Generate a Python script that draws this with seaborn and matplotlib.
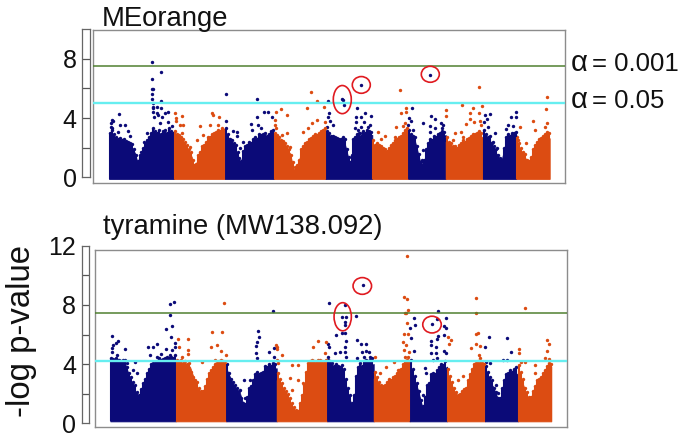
import pandas as pd
import seaborn as sns
import matplotlib
matplotlib.use("Agg")
import matplotlib.pyplot as plt
from matplotlib.patches import Ellipse

navy = "#0b0a78"
orange = "#dc4c12"
W, H = 686, 440

# solid part of each chromosome: (position, top of the dense points)
top_body = [
    [(109,2.86),(116.7,2.3),(126.7,2.3),(131.7,2.07),(135,1.62),(137.7,.95),(138.7,.16),(141.7,1.17),(145,1.96),(150,2.41),(156.7,2.75),(163.3,2.75),(174,2.86)],
    [(174,2.86),(181.7,2.52),(186.7,1.96),(191.7,1.39),(194.3,.5),(197.3,1.17),(203.3,1.96),(210,2.52),(216.7,2.86),(225,2.97)],
    [(225,3.09),(231.7,2.3),(235,1.96),(240,.95),(245,1.85),(250,2.07),(256.7,2.3),(263.3,2.64),(274,2.86)],
    [(274,2.75),(283.3,2.2),(290,1.62),(295,.16),(298.3,.95),(301.7,1.85),(308.3,2.3),(320,2.75),(325.7,2.97)],
    [(325.7,2.86),(333.3,2.52),(340,2.3),(344.7,2.3),(348,1.39),(351.3,.72),(353,2.3),(359.7,2.64),(372.3,2.86)],
    [(372.3,2.07),(379.7,1.96),(386.3,1.62),(393,1.96),(401.3,2.52),(408.3,2.86)],
    [(408.3,2.97),(414.7,2.52),(419.7,1.17),(423,.5),(428,2.07),(436.3,2.52),(445.7,2.86)],
    [(445.7,2.41),(454.7,1.85),(459.7,1.85),(469.7,2.3),(476.3,2.64),(483,2.75)],
    [(483,2.97),(489.7,2.52),(496.3,1.62),(501.3,1.06),(506.3,2.52),(516.3,2.86)],
    [(516.3,2.3),(524.7,1.39),(529,.83),(534.7,1.85),(539.7,2.41),(549.7,2.64)],
]
bottom_body = [
    [(110.3,4.17),(125,4.05),(128.3,3.38),(133.3,2.48),(138.3,1.69),(143.3,2.48),(148.3,3.38),(156.7,3.83),(166.7,4.17),(175.7,4.17)],
    [(175.7,4.05),(190,3.83),(196.7,2.48),(203.3,1.8),(210,3.14),(216.7,3.83),(226.3,4.05)],
    [(226.3,3.72),(233.3,2.59),(240,2.03),(245,.9),(250,2.14),(256.7,2.93),(266.7,3.6),(276.7,3.72)],
    [(276.7,2.93),(286.7,1.8),(296.7,.56),(303.3,1.8),(308.3,3.83),(320,4.05),(327.3,4.05)],
    [(327.3,3.83),(335,3.6),(343,3.38),(348,2.03),(353,.9),(356.3,2.93),(363,3.6),(373.7,4.01)],
    [(373.7,3.04),(384.7,2.25),(393,2.7),(401.3,3.38),(409.7,4.05)],
    [(409.7,3.83),(418,2.25),(423,.9),(428,2.14),(436.3,2.93),(443,3.6),(447,3.83)],
    [(447,3.38),(458,1.58),(466.3,2.03),(474.7,3.72),(485,3.83)],
    [(485,3.38),(493,2.48),(499.7,1.35),(506.3,2.93),(518,3.38)],
    [(518,3.6),(529.7,1.35),(539.7,2.7),(551.3,3.83)],
]

# separate markers above the solid part
top_navy = [
    (152,7.82),(160.7,7.14),(152,6.62),(152,5.99),(153.3,5.95),(152,5.63),(152,5.29),(160.7,5.16),(152.7,5.0),(152.7,4.77),
    (153.3,4.66),(157.3,4.73),(161.3,4.68),(152.7,4.44),(168.3,4.39),(165,4.32),(156.7,4.32),(119.3,4.3),(112,3.87),(111,3.69),
    (112.7,3.83),(120,3.54),(125.3,3.54),(111,3.42),(118.3,3.09),(128,3.13),(130,2.79),(154,4.1),(158.3,4.21),(162.3,4.1),
    (160,3.69),(168.3,3.76),(171.7,3.47),(146.7,2.97),(144,2.41),(141.3,1.73),(140,1.22),(112,3.31),
    (226,5.63),(226,3.83),(232.7,3.13),(236.7,3.05),(237.3,2.79),(256.7,5.32),(264.3,4.41),(267.7,4.41),(257.3,4.05),(271.7,4.05),
    (250.7,3.58),(258.3,3.54),(261.3,3.31),(251.7,3.2),(243.3,2.41),(240,1.96),(245,1.4),(240.7,0.72),(240.7,0.27),
    (327.7,5.16),(329,4.32),(328.3,4.05),(330,3.83),(333.3,3.54),(326.7,3.42),(342.3,5.29),(343,5.23),(343.7,4.89),(356.7,4.66),
    (355.7,4.1),(364.7,4.32),(371.3,4.17),(361.3,4.1),(356.3,3.76),(363.7,3.76),(370.3,3.54),(368,3.42),(361.3,3.42),(354.7,3.31),
    (358,3.2),(359.7,2.97),(361.3,6.24),
    (412,4.71),(409,3.99),(411.3,3.83),(408.5,3.54),(413,3.2),(423,3.69),(430.7,4.14),(434.7,3.92),(430.3,3.47),(440.7,3.69),
    (443,3.54),(435.3,3.31),(442,3.31),(430.3,3.09),(423,1.85),(421.7,1.17),(430.3,6.91),
    (515.7,4.39),(516,4.1),(510.7,4.08),(489.7,4.28),(484.7,4.21),(487.3,3.92),(483.7,3.76),(488,3.42),(508,3.54),(513,3.47),
    (505.7,3.27),(494.7,2.97),(493,2.41),(497,1.96),(499.7,1.17),
]
top_orange = [
    (175,4.32),(175.7,3.99),(181.7,4.14),(176,3.83),(180,3.54),(183.3,3.54),(200,3.47),(211.7,4.37),(213.3,4.21),(219.3,4.1),
    (210,3.54),(218.3,3.54),(203.3,2.85),(196.7,2.52),(181.7,2.97),(190,2.07),
    (275.7,4.39),(281,4.64),(286.7,4.21),(275,3.87),(275,3.54),(276,3.31),(286.7,2.97),(281.7,2.85),(290,2.07),(295,0.72),
    (295,0.27),(311.3,5.74),(317,5.16),(306.7,4.71),(324.3,4.77),(316.7,3.87),(311.7,3.69),(325,3.76),(308.3,3.31),(303.3,3.09),
    (400.3,5.92),(406.3,4.71),(405.7,4.44),(401.3,4.37),(404.7,3.69),(403,3.47),(396.3,3.38),(378,3.09),(384.7,2.79),(394.7,2.75),
    (381.3,2.57),(376.3,1.96),
    (479.3,6.10),(461.7,4.91),(481.7,4.82),(473,4.68),(446.3,4.55),(446.3,4.14),(469.7,4.32),(479,4.32),(469.7,3.92),(466.3,3.6),
    (473.7,3.76),(479.7,3.83),(481.3,3.54),(454.7,3.02),(461.3,3.09),(463,2.75),(453,2.52),
    (547,5.43),(546.3,4.64),(533,3.83),(534.7,3.2),(547,3.69),(544.7,3.42),(547,3.09),(519.7,3.42),(518,2.52),(526.3,2.3),
    (528,0.95),(524.7,1.17),
]
bottom_navy = [
    (112.3,5.92),(117.7,5.56),(115.7,5.45),(113.3,5.29),(112,5.07),(125,5.05),(112.3,4.84),(117.3,4.62),(116,4.39),(170,8.06),
    (174.3,8.2),(170.3,7.32),(171.7,6.58),(165.7,6.4),(170.7,5.86),(175.3,5.41),(175,5.18),(171.7,4.95),(148.3,5.18),(153.3,5.14),
    (157.3,5.36),(165.7,5.05),(161,4.68),(150,4.62),(156.7,4.5),(135,4.17),(165,4.39),(170,4.62),(126.7,4.05),(133.3,3.6),
    (136.7,3.38),(140,1.8),(143.3,1.69),
    (272.7,7.57),(258.3,6.22),(259.3,5.86),(257,5.52),(256,5.25),(274,5.07),(269,4.8),(274,4.5),(256,4.73),(256.7,4.39),
    (244,2.93),(250,2.93),(240,2.25),(245,1.69),(245,1.13),
    (329,8.11),(341.7,7.16),(335.7,5.95),(328.3,5.36),(329,5.14),(340,4.84),(335,4.73),(327.8,4.5),(341.7,6.13),(344.7,8.0),
    (345.7,7.16),(344.7,6.87),(345.3,6.64),(344.7,6.13),(345.7,5.59),(345.3,5.18),(344.7,4.84),(345.7,4.5),(355.7,7.25),(357,5.61),
    (363,9.32),(361.3,5.34),(365.7,5.34),(362.3,4.84),(365.7,4.91),(369,4.84),(363.7,4.5),(369.7,4.46),(357,4.39),
    (438,7.59),(446.3,7.14),(413.7,7.09),(437.3,7.03),(414.7,6.62),(410,6.46),(432,6.73),(444,6.6),(445.7,6.42),(444,5.97),
    (438,5.9),(437.3,5.72),(410.7,5.74),(431.3,5.59),(431,5.29),(436.3,5.18),(413.7,4.91),(444,4.91),(446.3,4.73),(431.3,4.73),
    (436.3,4.73),(437.3,4.39),(433,4.28),(426.3,3.38),(424.7,3.72),(423,1.91),(422.3,1.01),
    (489,5.81),(507.3,5.79),(485.3,5.16),(510.7,4.8),(503,4.3),(507.3,4.3),(486.3,4.17),(489.7,4.05),(496.3,2.59),(498,2.03),
]
bottom_orange = [
    (177.7,5.72),(188,5.68),(179,5.18),(187.7,4.95),(182,4.5),(188.3,4.68),(211.7,6.19),(222,6.19),(224,8.13),(217.3,5.27),
    (211,5.14),(221.3,4.91),(226,4.62),(201.7,4.17),(215,4.28),(220.7,4.28),
    (276,5.32),(277,5.14),(277,5.0),(282,4.59),(277.7,4.05),(291.7,3.92),(298.3,3.92),(290,3.04),(298.3,2.93),(291.7,2.25),
    (303.3,2.7),(276.7,4.28),(317.7,5.54),(326,5.52),(313.3,5.18),(325,4.73),
    (407.3,11.31),(404.3,8.56),(407,8.38),(407.7,7.66),(404.7,7.43),(406.3,7.48),(407.3,6.76),(404.3,6.04),(407.7,6.04),(403,5.52),
    (406.3,5.29),(409,4.84),(403.7,4.95),(404.7,4.5),(408.3,4.5),(394,4.12),(374.7,4.46),(386.3,3.83),(379.7,3.38),(398,3.6),
    (476,8.49),(476,7.48),(478,6.08),(475.7,6.01),(476.3,5.34),(479.7,5.25),(471,5.09),(479,4.62),(479.7,4.39),(448,5.86),
    (450.7,5.63),(448.7,5.36),(463,3.22),(458,2.93),
    (525.3,7.77),(547,5.63),(549,5.34),(547,4.89),(544.7,4.39),(548.7,4.32),(518.7,5.05),(518.7,4.73),(524.7,4.17),(521,4.14),
    (534.7,3.94),(534.7,3.38),(543,3.15),
]

# markers at the upper edge of the solid part, estimated
top_navy_edge = [
    (110,3.0),(112,3.2),(114,2.9),(116,2.75),(118,2.6),(120,2.65),(122,2.5),(124,2.6),(126,2.45),(128,2.4),(130,2.3),(132,2.25),
    (134,1.9),(136,1.5),(138,1.1),(139,0.7),(140,1.5),(142,1.6),(143,2.0),(145,2.3),(147,2.55),(149,2.7),(151,3.0),(153,3.3),
    (155,3.1),(157,3.0),(159,3.2),(161,2.95),(163,3.1),(165,3.2),(167,3.0),(169,3.3),(171,3.1),(173,3.0),
    (226,3.3),(228,2.9),(230,2.6),(232,2.5),(234,2.3),(236,2.15),(238,1.7),(239,1.3),(241,1.1),(243,1.8),(245,2.1),(247,2.2),
    (249,2.4),(251,2.35),(253,2.6),(255,2.7),(257,2.6),(259,2.9),(261,2.85),(263,2.95),(265,3.0),(267,2.8),(269,2.9),(271,3.1),(273,3.2),
    (327,3.1),(329,3.0),(331,2.8),(333,2.8),(335,2.7),(337,2.65),(339,2.6),(341,2.6),(343,2.7),(345,2.6),(347,1.9),(349,1.4),
    (350,1.0),(352,1.5),(353,2.6),(355,2.75),(357,2.9),(359,3.0),(361,2.8),(363,3.1),(365,3.0),(367,3.2),(369,3.1),(371,3.05),
    (409,3.2),(411,2.95),(413,2.8),(415,2.75),(417,2.1),(419,1.6),(421,1.0),(422.5,0.8),(424,1.2),(426,1.9),(428,2.35),(430,2.6),
    (432,2.55),(434,2.8),(436,2.75),(438,2.9),(440,3.0),(442,3.1),(444,3.05),
    (484,3.2),(486,2.9),(488,2.75),(490,2.8),(492,2.3),(494,2.1),(496,1.9),(498,1.5),(500,1.3),(502,1.2),(504,2.0),(506,2.75),
    (508,2.9),(510,2.8),(512,3.0),(514,3.0),(516,3.05),
]
top_orange_edge = [
    (175,3.1),(177,2.9),(179,2.85),(181,2.7),(183,2.6),(185,2.4),(187,2.2),(189,1.9),(191,1.7),(193,1.2),(194.5,.8),(196,.9),
    (198,1.5),(200,1.7),(202,2.1),(204,2.2),(206,2.4),(208,2.7),(210,2.7),(212,2.9),(214,3.0),(216,3.05),(218,3.2),(220,3.1),(222,3.3),(224,3.2),
    (275,3.0),(277,2.85),(279,2.7),(281,2.5),(283,2.45),(285,2.3),(287,2.1),(289,1.9),(291,1.5),(293,1.0),(295,.5),(297,.8),
    (299,1.2),(301,1.9),(303,2.1),(305,2.3),(307,2.4),(309,2.6),(311,2.65),(313,2.8),(315,2.9),(317,2.85),(319,3.0),(321,3.1),(323,3.2),(325,3.3),
    (373,2.5),(375,2.2),(377,2.3),(379,2.2),(381,2.1),(383,2.0),(385,1.9),(387,1.8),(389,2.0),(391,2.2),(393,2.3),(395,2.5),
    (397,2.6),(399,2.75),(401,2.8),(403,3.0),(405,3.2),(407,3.3),
    (447,2.7),(449,2.4),(451,2.3),(453,2.1),(455,2.1),(457,2.0),(459,2.2),(461,2.3),(463,2.5),(465,2.4),(467,2.6),(469,2.65),
    (471,2.8),(473,2.9),(475,2.95),(477,3.0),(479,3.1),(481,3.0),
    (517,2.7),(519,2.3),(521,2.0),(523,1.7),(525,1.6),(527,1.2),(529,1.1),(531,1.4),(533,1.9),(535,2.2),(537,2.4),(539,2.6),
    (541,2.65),(543,2.8),(545,2.9),(547,2.9),(549,3.0),
]
bottom_navy_edge = [
    (111,4.4),(113,4.35),(115,4.3),(117,4.25),(119,4.3),(121,4.2),(123,4.3),(125,4.25),(127,3.8),(129,3.4),(131,3.1),(133,2.8),
    (135,2.6),(137,2.1),(139,1.9),(141,2.3),(143,2.7),(145,3.0),(147,3.4),(149,3.7),(151,4.0),(153,4.1),(155,4.05),(157,4.2),
    (159,4.4),(161,4.3),(163,4.35),(165,4.3),(167,4.5),(169,4.4),(171,4.5),(173,4.4),(175,4.6),
    (227,4.0),(229,3.4),(231,3.0),(233,2.8),(235,2.6),(237,2.4),(239,2.2),(241,1.7),(243,1.4),(245,1.3),(247,1.8),(249,2.4),
    (251,2.5),(253,2.9),(255,3.3),(257,3.5),(259,3.3),(261,3.4),(263,3.5),(265,3.85),(267,3.8),(269,4.0),(271,3.9),(273,4.1),(275,4.0),
    (328,4.3),(330,4.2),(332,4.1),(334,3.9),(336,4.0),(338,3.9),(340,3.8),(342,3.95),(344,3.7),(346,3.0),(348,2.4),(350,1.9),
    (352,1.4),(354,1.9),(356,3.2),(358,3.8),(360,4.1),(362,3.9),(364,4.2),(366,4.3),(368,4.2),(370,4.3),(372,4.4),
    (411,4.3),(413,3.7),(415,3.2),(417,2.7),(419,2.2),(421,1.6),(423,1.2),(425,1.8),(427,2.6),(429,2.7),(431,3.3),(433,3.4),
    (435,3.3),(437,3.6),(439,3.8),(441,4.0),(443,3.95),(445,4.2),
    (486,3.9),(488,3.5),(490,3.1),(492,2.9),(494,2.4),(496,2.1),(498,1.7),(500,1.7),(502,2.4),(504,2.9),(506,3.3),(508,3.4),
    (510,3.6),(512,3.5),(514,3.7),(516,3.8),
]
bottom_orange_edge = [
    (177,4.3),(179,4.2),(181,4.3),(183,4.1),(185,4.2),(187,4.0),(189,4.1),(191,3.5),(193,3.1),(195,2.9),(197,2.8),(199,2.4),
    (201,2.2),(203,2.2),(205,2.5),(207,3.0),(209,3.4),(211,3.6),(213,3.8),(215,4.0),(217,4.1),(219,4.2),(221,4.1),(223,4.2),(225,4.1),
    (278,3.4),(280,3.0),(282,2.7),(284,2.4),(286,2.2),(288,2.0),(290,1.7),(292,1.4),(294,1.1),(296,.9),(298,.8),(300,1.4),
    (302,1.9),(304,2.6),(306,3.5),(308,4.1),(310,4.2),(312,4.3),(314,4.2),(316,4.1),(318,4.3),(320,4.3),(322,4.2),(324,4.1),(326,4.3),
    (375,3.5),(377,3.1),(379,2.8),(381,2.6),(383,2.5),(385,2.6),(387,2.8),(389,3.0),(391,2.9),(393,3.1),(395,3.2),(397,3.4),
    (399,3.6),(401,3.7),(403,4.0),(405,4.2),(407,4.3),(409,4.2),
    (448,3.7),(450,3.2),(452,2.8),(454,2.4),(456,2.1),(458,1.9),(460,2.0),(462,2.2),(464,2.3),(466,2.4),(468,2.9),(470,3.3),
    (472,3.7),(474,4.0),(476,4.1),(478,4.2),(480,4.05),(482,4.1),(484,4.0),
    (519,3.95),(521,3.5),(523,3.0),(525,2.4),(527,2.1),(529,1.8),(531,1.8),(533,2.2),(535,2.5),(537,2.9),(539,3.0),(541,3.1),
    (543,3.4),(545,3.6),(547,3.9),(549,4.1),(551,4.0),
]

# significance lines: (alpha 0.001, alpha 0.05)
top_lines = [7.5, 5.02]
bottom_lines = [7.48, 4.2]

# circled hits: (position, -log p, width, height)
top_circles = [(342.3,5.25,18,1.9),(361.3,6.24,18,1.13),(430.3,6.96,18,1.08)]
bottom_circles = [(342.7,7.2,17.3,1.9),(362.3,9.28,18.5,1.13),(432,6.67,18.5,1.13)]

sns.set_theme(style="white")
plt.rcParams["font.family"] = ["Liberation Sans", "DejaVu Sans"]
fig = plt.figure(figsize=(W / 100, H / 100), dpi=100)


def axes_px(left, top, right, bottom):
    return fig.add_axes([left / W, 1 - bottom / H, (right - left) / W, (bottom - top) / H])


def panel(box, xlim, ylim, floor, body, navy_pts, orange_pts, navy_edge, orange_edge, lines, circles):
    ax = axes_px(*box)
    for i, chrom in enumerate(body):
        d = pd.DataFrame(chrom, columns=["pos", "logp"])
        ax.fill_between(d["pos"], floor, d["logp"], color=navy if i % 2 == 0 else orange, lw=0.6)
    for edge, col in [(navy_edge, navy), (orange_edge, orange)]:
        d = pd.DataFrame(edge, columns=["pos", "logp"])
        ax.vlines(d["pos"], floor, d["logp"], color=col, lw=1.5)
    for pts, col in [(navy_pts + navy_edge, navy), (orange_pts + orange_edge, orange)]:
        d = pd.DataFrame(pts, columns=["pos", "logp"])
        sns.scatterplot(data=d, x="pos", y="logp", color=col, s=6, linewidth=0, ax=ax, legend=False)
    ax.axhline(lines[0], color="#4f8030", lw=1.1, zorder=5)
    ax.axhline(lines[1], color="#66eef0", lw=1.7, zorder=5)
    for x, y, w, h in circles:
        ax.add_patch(Ellipse((x, y), w, h, fill=False, ec="#e01a20", lw=1.2, zorder=6))
    ax.set_xlim(*xlim)
    ax.set_ylim(*ylim)
    ax.set_xticks([])
    ax.set_yticks([])
    ax.set_xlabel("")
    ax.set_ylabel("")
    for s in ax.spines.values():
        s.set_color("#8c8c8c")
        s.set_linewidth(1.0)
    return ax


def scale(box, ymax, labels):
    ax = axes_px(*box)
    ax.set_xlim(0, 1)
    ax.set_ylim(0, ymax)
    ticks = list(range(0, ymax + 1, 2))
    ax.set_xticks([])
    ax.set_yticks(ticks)
    ax.set_yticklabels([str(t) if t in labels else "" for t in ticks], fontsize=18, color="#111111")
    ax.tick_params(axis="y", length=0, pad=4)
    for t in ticks[1:-1]:
        ax.axhline(t, color="#555555", lw=0.9)
    for s in ax.spines.values():
        s.set_color("#666666")
        s.set_linewidth(0.9)


panel((92.7, 30.3, 565.3, 183), (92.7, 565.3), (-0.385, 9.93), -0.11,
      top_body, top_navy, top_orange, top_navy_edge, top_orange_edge, top_lines, top_circles)
panel((94.7, 249.7, 567.3, 427), (94.7, 567.3), (-0.25, 11.73), 0.13,
      bottom_body, bottom_navy, bottom_orange, bottom_navy_edge, bottom_orange_edge, bottom_lines, bottom_circles)
scale((82.3, 29.3, 90, 177.3), 10, [0, 4, 8])
scale((81.7, 245.7, 89.3, 423.3), 12, [0, 4, 8, 12])

txt = "#111111"
fig.text(102 / W, 1 - 26 / H, "MEorange", fontsize=19.8, color=txt, va="baseline")
fig.text(103 / W, 1 - 234 / H, "tyramine (MW138.092)", fontsize=19.8, color=txt, va="baseline")
fig.text(22 / W, 1 - 331 / H, "-log p-value", fontsize=23.7, color=txt, rotation=90, va="center", ha="center")
for y, label in [(71, "= 0.001"), (108, "= 0.05")]:
    fig.text(571 / W, 1 - y / H, "α", fontsize=21, color=txt, va="baseline")
    fig.text(592 / W, 1 - y / H, label, fontsize=18.5, color=txt, va="baseline")

fig.savefig("out.png", dpi=100)
